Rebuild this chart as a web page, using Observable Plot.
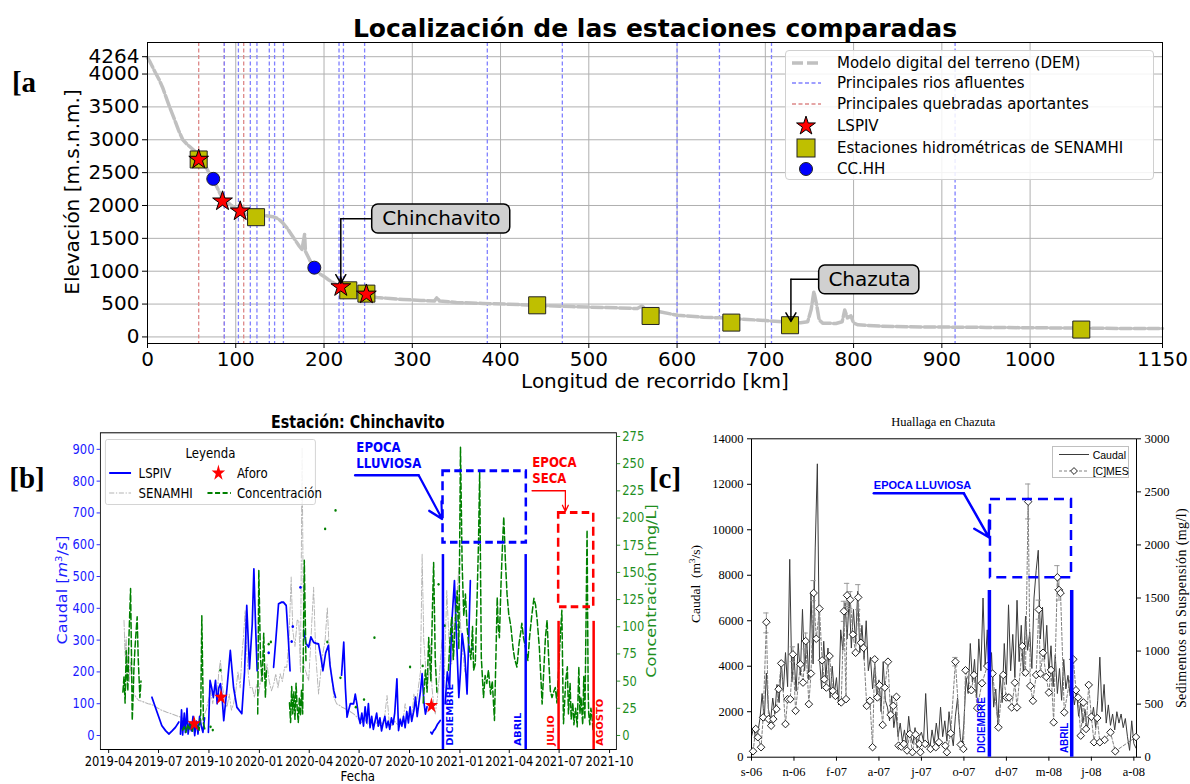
<!DOCTYPE html>
<html><head><meta charset="utf-8">
<script src="https://cdn.jsdelivr.net/npm/d3@7"></script>
<script src="https://cdn.jsdelivr.net/npm/@observablehq/plot@0.6"></script>
<style>
body{margin:0;background:#fff;}
#root{position:relative;width:1190px;height:784px;overflow:hidden;background:#fff;font-family:"DejaVu Sans",sans-serif;}
#root svg{position:absolute;left:0;top:0;overflow:visible;}
</style></head><body><div id="root"></div>
<script>
// ================= DATA =================
// Panel a: profile of the river (km, elevation m.s.n.m.)
const demProfile = [[0,4250],[3,4180],[6,4100],[9,4020],[13,3920],[17,3800],[21,3650],[25,3500],[30,3330],[35,3150],[40,3000],[45,2930],[50,2870],[55,2810],[60,2740],[65,2620],[71,2460],[78,2300],[84,2130],[90,2060],[95,2000],[100,1950],[105,1900],[110,1870],[118,1860],[126,1850],[134,1845],[142,1830],[148,1800],[153,1740],[158,1660],[163,1560],[168,1460],[172,1380],[175,1330],[177,1480],[178,1560],[179,1300],[182,1220],[186,1110],[190,1040],[195,960],[200,920],[205,870],[210,830],[215,790],[220,760],[225,720],[230,690],[235,660],[240,640],[248,620],[260,600],[275,585],[290,570],[310,555],[325,545],[328,600],[331,545],[350,525],[380,510],[410,497],[440,482],[480,462],[520,447],[555,432],[560,470],[565,425],[600,330],[630,300],[650,290],[680,265],[700,250],[720,230],[740,215],[748,230],[752,420],[755,690],[758,500],[761,260],[765,210],[780,205],[787,230],[790,410],[793,290],[797,320],[800,210],[805,185],[830,165],[860,155],[900,150],[950,145],[1000,140],[1050,135],[1100,130],[1150,128]];
const riverKm = [87,103,116.5,124,138,144,154,217,222,246,385,470,600,648,707,915];
const creekKm = [58,87,109];
const lspivStations = [[58,2700],[85,2065],[105,1913],[219,760],[248,648]];
const senamhiStations = [[58,2700],[123,1822],[227.5,709],[248,659],[441.5,481],[570,319],[661.5,218],[728,178],[1058,112]];
const cchhStations = [[74.5,2405],[189,1054]];
const elevTicks = [0,500,1000,1500,2000,2500,3000,3500,4000,4264];
const kmTicks = [0,100,200,300,400,500,600,700,800,900,1000,1150];
const stationNames = ["Chinchavito","Chazuta"];

// Panel b: Chinchavito (day offsets from 2019-04-01)
const lspivFlow = [[79,120],[88,75],[97,31],[104,15],[110,5],[116,15],[122,26],[128,42],[129,null],
[131,5],[133,80],[135,2],[138,70],[140,10],[143,85],[145,5],[148,40],[151,15],[154,60],[157,0],[160,45],[163,5],[166,60],[169,30],[172,10],[175,55],[178,null],
[182,10],[185,173],[188,150],[191,120],[195,173],[198,100],[201,150],[204,163],[207,120],[210,47],[216,150],[222,267],[228,150],[234,89],[238,80],[243,69],[248,200],[252,409],[257,210],[262,350],[265,524],[268,350],[271,204],[280,null],
[301,215],[305,300],[310,414],[315,419],[319,419],[324,409],[328,300],[331,204],[340,null],
[356,330],[360,290],[365,278],[369,310],[374,293],[378,290],[383,288],[387,250],[391,204],[396,260],[401,283],[404,220],[408,173],[411,140],[414,120],[419,null],
[425,190],[429,293],[432,150],[435,58],[438,80],[441,100],[447,100],[450,130],[453,100],[456,60],[459,38],[462,70],[465,30],[468,90],[471,40],[474,100],[477,25],[480,60],[483,20],[486,45],[489,70],[492,30],[495,55],[498,15],[501,40],[504,60],[507,25],[510,45],[513,20],[516,55],[519,35],[522,70],[526,178],[529,16],[532,50],[535,30],[538,60],[541,25],[544,75],[547,40],[550,90],[553,45],[557,79],[560,120],[563,60],[566,100],[569,140],[572,194],[575,110],[578,68],[581,90],[584,null],
[588,10],[590,5],[593,15],[596,21],[600,35],[605,47],[609,null],
[614,100],[618,200],[622,150],[626,350],[631,487],[635,300],[639,120],[642,200],[645,320],[650,250],[654,131],[657,300],[660,487]];
const lspivDots = [[292,260],[334,296],[336,343],[350,466],[639,341],[663,273]];
const senamhiFlow = [[28,362],[30,250],[32,310],[34,200],[36,280],[38,170],[40,230],[43,150],[46,131],[50,120],[55,110],[60,108],[66,104],[72,100],[78,98],[84,92],[90,86],[96,80],[102,76],[106,73],[112,70],[118,66],[124,62],[131,58],[137,52],[143,48],[149,42],[155,37],[160,45],[165,40],[170,50],[173,58],[178,80],[182,110],[186,141],[190,100],[194,160],[198,130],[201,200],[204,236],[208,150],[212,110],[216,89],[220,130],[224,80],[228,100],[232,140],[236,200],[240,150],[243,250],[246,309],[249,393],[252,260],[255,190],[258,150],[262,152],[266,120],[270,160],[274,130],[277,173],[281,200],[285,180],[289,225],[293,170],[297,141],[301,160],[305,194],[309,150],[313,194],[317,170],[321,215],[325,215],[329,300],[333,498],[336,330],[340,280],[344,362],[347,362],[350,200],[353,906],[356,225],[360,200],[365,173],[369,300],[374,466],[378,250],[383,131],[387,200],[391,260],[395,300],[399,403],[403,250],[407,180],[411,120],[416,100],[421,95],[426,89],[431,85],[436,80],[441,75],[447,68],[452,60],[457,50],[462,40],[467,55],[472,35],[477,50],[482,30],[487,45],[492,28],[497,40],[502,35],[508,126],[512,40],[517,30],[522,45],[527,35],[532,55],[537,45],[541,100],[545,60],[549,80],[553,50],[557,130],[561,90],[565,150],[569,200],[572,571],[575,300],[578,225],[582,150],[585,220],[587,288],[590,150],[593,100],[596,68],[600,120],[604,200],[608,300],[612,150],[617,456],[621,300],[626,225],[630,350],[634,400],[639,529],[642,350],[645,278],[650,200]];
const concentration = [[26,40],[28,54],[30,30],[32,78],[34,50],[35,41],[37,90],[40,135],[42,60],[43,14],[45,40],[46,60],[48,80],[50,95],[52,109],[54,70],[57,35],[59,50],[62,null],
[135,5],[138,8],[141,3],[144,10],[147,6],[150,12],[153,4],[156,15],[159,8],[162,10],[165,5],[168,20],[170,110],[173,11],[176,5],[178,null],
[272,20],[274,152],[277,72],[280,50],[283,94],[286,35],[288,60],[290,null],
[330,30],[332,12],[334,45],[336,20],[338,40],[340,15],[342,48],[344,25],[346,12],[348,35],[350,18],[352,42],[354,20],[357,161],[360,69],[362,null],
[574,30],[578,60],[581,40],[584,90],[588,50],[591,120],[593,159],[596,69],[599,40],[603,null],
[620,60],[623,90],[626,109],[629,70],[632,100],[636,133],[639,80],[642,265],[645,158],[648,110],[651,130],[654,100],[657,84],[661,70],[664,100],[666,60],[669,66],[672,120],[675,180],[677,242],[680,72],[684,35],[687,55],[690,48],[693,60],[697,38],[700,50],[704,14],[707,80],[709,127],[711,100],[713,90],[716,140],[719,180],[721,201],[724,160],[727,130],[730,112],[734,100],[738,80],[741,70],[745,63],[749,85],[752,95],[754,103],[757,90],[761,80],[765,69],[768,90],[772,110],[776,126],[779,120],[782,106],[786,80],[789,50],[791,29],[794,60],[797,90],[800,106],[803,70],[806,41],[809,35],[812,40],[815,44],[818,30],[821,60],[824,90],[827,115],[829,40],[830,11],[832,30],[834,50],[837,63],[839,20],[842,48],[844,15],[847,30],[849,10],[852,25],[855,8],[858,63],[860,20],[862,35],[865,10],[867,54],[869,15],[871,100],[873,189],[875,40],[876,20],[878,10],[880,25],[882,17],[884,5]];
const concDots = [[204,60],[292,84],[296,86],[395,190],[399,86],[414,207],[423,53],[451,26],[466,33],[485,90],[550,63],[573,64],[602,139],[613,101],[186,8],[190,5]];
const aforo = [[156,37],[205,120],[589,94]];
const flowTicksB = [0,100,200,300,400,500,600,700,800,900];
const concTicks = [0,25,50,75,100,125,150,175,200,225,250,275];
const dateTicksB = ["2019-04","2019-07","2019-10","2020-01","2020-04","2020-07","2020-10","2021-01","2021-04","2021-07","2021-10"];
const seasonsB = [{name:"DICIEMBRE",day:610,color:"#0000ff"},{name:"ABRIL",day:761,color:"#0000ff"},{name:"JULIO",day:821,color:"#ff0000"},{name:"AGOSTO",day:885,color:"#ff0000"}];

// Panel c: Huallaga en Chazuta (caudal every 4 days from 2006-09-01)
const caudal = [900,1300,800,1100,1700,2800,1600,3700,2100,1600,
2600,1900,3200,2400,4200,2900,4600,3100,8700,3300,
4500,2900,5000,3600,6500,3800,5200,3400,7200,4100,
9200,12900,4400,3000,5100,3500,4800,2600,4000,2800,
3500,2300,5600,4700,6800,5200,7000,4800,6500,5000,
7300,4600,5800,4300,6000,3800,4400,3000,4100,2600,
3400,2000,4200,2500,2200,1600,2700,1300,2000,900,
1500,700,1200,500,1800,900,600,1300,400,900,
1100,700,2800,800,400,1200,600,1500,800,2200,
900,1600,700,2000,1100,500,1800,2600,1200,300,
1500,3500,2800,5000,3300,4300,2600,5200,3800,7000,
4000,5600,3000,4600,2200,3000,1400,3600,2400,5000,
3200,6700,3800,5400,3500,6900,4200,5800,3600,6200,
4700,5500,3900,7000,8200,9100,5200,6600,4300,5800,
3700,4900,3100,4500,2800,3900,2500,4300,3000,3600,
2700,3100,2300,2900,1800,2400,1500,2100,1200,1800,
1600,2200,1300,2500,4400,2000,3200,1500,2300,1400,
1900,1200,2000,1500,1900,1300,1700,900,300,1600,600,400];
const cmes = [[3,56],[8,266],[12,188],[18,94],[22,375],[28,1272],[32,359],[37,297],[41,359],[47,453],[51,641],[56,884],[64,312],[68,547],[73,547],[78,969],[83,437],[92,875],[97,703],[102,1094],[108,500],[112,788],[117,1547],[122,1116],[128,1400],[133,913],[137,734],[141,656],[147,953],[153,625],[158,578],[169,516],[174,1375],[178,547],[180,1525],[186,1484],[191,1156],[196,984],[201,1506],[206,1078],[211,1030],[217,484],[223,531],[228,94],[232,922],[237,563],[241,678],[247,303],[251,656],[257,900],[262,400],[267,484],[273,569],[277,109],[282,100],[287,125],[293,63],[298,219],[303,47],[309,213],[316,125],[318,47],[327,125],[337,78],[347,94],[353,141],[365,109],[368,47],[375,225],[384,900],[394,119],[399,78],[403,819],[414,631],[419,775],[425,463],[434,697],[444,859],[454,788],[465,281],[474,775],[480,563],[485,563],[490,469],[496,703],[500,469],[510,1047],[516,797],[521,2408],[525,672],[530,531],[536,775],[541,1391],[544,788],[549,984],[555,756],[560,609],[564,822],[569,328],[576,1695],[579,1576],[582,1547],[589,422],[606,922],[611,631],[615,563],[620,203],[625,516],[630,266],[635,681],[640,381],[645,141],[651,369],[656,141],[665,163],[676,234],[685,56],[724,190]];
const cmesErr = [[28,1172,1359],[78,900,1040],[102,1020,1170],[117,1475,1664],[174,1280,1469],[180,1420,1638],[186,1400,1560],[201,1390,1626],[384,860,940],[521,2245,2574],[541,1300,1480],[576,1580,1805],[579,1480,1680]];
const flowTicksC = [0,2000,4000,6000,8000,10000,12000,14000];
const sedTicks = [0,500,1000,1500,2000,2500,3000];
const dateTicksC = ["s-06","n-06","f-07","a-07","j-07","o-07","d-07","m-08","j-08","a-08"];
const seasonsC = [{name:"DICIEMBRE",day:448},{name:"ABRIL",day:603}];

// ================= HELPERS =================
const root = document.getElementById("root");
function label(parent, html, x, y, css, rot=0){
  const d=document.createElement("div");
  d.innerHTML=html;
  d.style.cssText=`position:absolute;left:${x}px;top:${y}px;white-space:nowrap;line-height:1;transform:translate(-50%,-50%) rotate(${rot}deg);`+css;
  parent.appendChild(d); return d;
}
function sym(type,size,fill,stroke,sw){return `<path d="${d3.symbol(type,size)()}" fill="${fill}" stroke="${stroke}" stroke-width="${sw}"/>`;}

// ================= PANEL A =================
const dem = demProfile.map(([km,elev])=>({km,elev}));
const toXY = arr => arr.map(([km,elev])=>({km,elev}));
const boxes = [
  {name:stationNames[0], x1:254.6, x2:411, y1:1575, y2:2015, cx:333, cy:1795, hx:219, hy:1800, ty:815},
  {name:stationNames[1], x1:761, x2:874.5, y1:648, y2:1088, cx:818, cy:868, hx:729, hy:876, ty:235}
];
const plotA = Plot.plot({
  width:1190, height:400, marginLeft:147, marginRight:28, marginTop:42, marginBottom:57,
  x:{domain:[0,1150]}, y:{domain:[-100,4480]},
  style:{fontFamily:"DejaVu Sans", background:"transparent", color:"#000"},
  marks:[
    Plot.gridY(elevTicks,{stroke:"#b0b0b0", strokeOpacity:1}),
    Plot.gridX(kmTicks,{stroke:"#b0b0b0", strokeOpacity:1}),
    Plot.ruleX(creekKm,{stroke:"#dd8888", strokeDasharray:"4,2.5", strokeWidth:1.3}),
    Plot.ruleX(riverKm,{stroke:"#8080ff", strokeDasharray:"4,2.5", strokeWidth:1.3}),
    Plot.line(dem,{x:"km", y:"elev", stroke:"#c0c0c0", strokeWidth:3.5, strokeDasharray:"11,3"}),
    Plot.dot(toXY(senamhiStations),{x:"km", y:"elev", symbol:"square", r:9.6, fill:"#bfbf00", stroke:"#222", strokeWidth:1}),
    Plot.dot(toXY(cchhStations),{x:"km", y:"elev", symbol:"circle", r:6.5, fill:"#0000ff", stroke:"#222", strokeWidth:1}),
    Plot.dot(toXY(lspivStations),{x:"km", y:"elev", symbol:"star", r:6.2, fill:"#ff0000", stroke:"#000", strokeWidth:1}),
    Plot.line(boxes.flatMap((b,i)=>[{g:i,x:b.x1,y:b.hy},{g:i,x:b.hx,y:b.hy}]),{x:"x", y:"y", z:"g", stroke:"#000", strokeWidth:1.5}),
    Plot.arrow(boxes,{x1:"hx", y1:"hy", x2:"hx", y2:"ty", stroke:"#000", strokeWidth:1.5, headLength:10, bend:false}),
    Plot.rect(boxes,{x1:"x1", x2:"x2", y1:"y1", y2:"y2", rx:6, fill:"#d0d0d0", stroke:"#000", strokeWidth:1.5}),
    Plot.text(boxes,{x:"cx", y:"cy", text:"name", fontSize:20, fill:"#000"}),
    Plot.axisX(kmTicks,{tickSize:5, tickPadding:3, fontSize:20, tickFormat:"d", label:null}),
    Plot.axisY(elevTicks,{tickSize:5, tickPadding:3, fontSize:20, tickFormat:"d", label:null}),
    Plot.frame({stroke:"#000", strokeWidth:1})
  ]
});
root.appendChild(plotA);
label(root,"Localización de las estaciones comparadas",655,28,"font-size:25px;font-weight:bold;");
label(root,"Elevación [m.s.n.m.]",72,192,"font-size:20px;",-90);
label(root,"Longitud de recorrido [km]",655,381,"font-size:20px;");
label(root,"[a",24,82,"font-family:'Liberation Serif',serif;font-size:29px;font-weight:bold;");
{
  const lg=document.createElement("div");
  lg.style.cssText="position:absolute;left:785px;top:50px;width:369px;height:130px;background:rgba(255,255,255,0.85);border:1px solid #d0d0d0;border-radius:4px;box-sizing:border-box;";
  const rows=[
    {t:"Modelo digital del terreno (DEM)", s:`<line x1="6" x2="35" y1="11" y2="11" stroke="#c0c0c0" stroke-width="3.5" stroke-dasharray="11,4"/>`},
    {t:"Principales rios afluentes", s:`<line x1="6" x2="35" y1="11" y2="11" stroke="#8080ff" stroke-width="1.3" stroke-dasharray="4,2.5"/>`},
    {t:"Principales quebradas aportantes", s:`<line x1="6" x2="35" y1="11" y2="11" stroke="#dd8888" stroke-width="1.3" stroke-dasharray="4,2.5"/>`},
    {t:"LSPIV", s:`<g transform="translate(20,11)">${sym(d3.symbolStar,110,"#ff0000","#000",1)}</g>`},
    {t:"Estaciones hidrométricas de SENAMHI", s:`<rect x="11" y="2" width="18" height="18" fill="#bfbf00" stroke="#222"/>`},
    {t:"CC.HH", s:`<circle cx="20" cy="11" r="6.5" fill="#0000ff" stroke="#222"/>`}
  ];
  const ys=[61.7,81.7,103.3,125,146.7,167.7];
  rows.forEach((r,i)=>{
    const y=ys[i]-50;
    const sv=document.createElement("div");
    sv.innerHTML=`<svg width="40" height="22" style="position:static">${r.s}</svg>`;
    sv.style.cssText=`position:absolute;left:0px;top:${y-11}px;width:40px;height:22px;`;
    lg.appendChild(sv);
    const t=document.createElement("div");
    t.textContent=r.t;
    t.style.cssText=`position:absolute;left:51px;top:${y-9}px;font-size:15px;line-height:18px;white-space:nowrap;`;
    lg.appendChild(t);
  });
  root.appendChild(lg);
}

// ================= PANEL B =================
const K = 0.84;
const B0 = Date.UTC(2019,3,1);
const bd = d => new Date(B0 + d*864e5);
const wrapB = document.createElement("div");
wrapB.style.cssText=`position:absolute;left:0;top:400px;width:810px;height:384px;transform:scaleX(${K});transform-origin:0 0;`;
root.appendChild(wrapB);
const optB = {width:810, height:384, marginLeft:119, marginRight:76.7, marginTop:32.3, marginBottom:35,
  style:{fontFamily:"DejaVu Sans", background:"transparent", color:"#000"}};
const xB = {type:"utc", domain:[bd(-15.1), bd(926.5)]};
const bTicks = dateTicksB.map(s=>new Date(s+"-01T00:00:00Z"));
const toDV = arr => arr.map(([d,v])=>({date:bd(d), v}));
const b1 = Plot.plot({...optB, x:xB, y:{domain:[-44,952]},
  marks:[
    Plot.line(toDV(senamhiFlow),{x:"date", y:"v", stroke:"#b4b4b4", strokeWidth:1.1, strokeDasharray:"6,2,1.5,2"}),
    Plot.line(toDV(lspivFlow),{x:"date", y:"v", stroke:"#0000ff", strokeWidth:2}),
    Plot.dot(toDV(lspivDots),{x:"date", y:"v", r:1.5, fill:"#0000ff"}),
    Plot.axisX(bTicks,{tickFormat:"%Y-%m", fontSize:13.7, tickSize:4, tickPadding:3, label:null}),
    Plot.axisY(flowTicksB,{fontSize:13.7, tickSize:4, tickPadding:3, label:null, color:"#1a1aff"}),
    Plot.frame({stroke:"#000"})
  ]});
wrapB.appendChild(b1);
const b2 = Plot.plot({...optB, x:{...xB, axis:null}, y:{domain:[-12.9,278.4]},
  marks:[
    Plot.line(toDV(concentration),{x:"date", y:"v", stroke:"#008000", strokeWidth:1.8, strokeDasharray:"6,3"}),
    Plot.dot(toDV(concDots),{x:"date", y:"v", r:1.4, fill:"#008000"}),
    Plot.axisY(concTicks,{anchor:"right", fontSize:13.7, tickSize:4, tickPadding:3, label:null, color:"#1f8f1f"})
  ]});
wrapB.appendChild(b2);
const secoRect = [{x1:bd(610), x2:bd(762), y1:606, y2:831, c:"#0000ff"},{x1:bd(821), x2:bd(885), y1:403, y2:700, c:"#ff0000"}];
const b3 = Plot.plot({...optB, x:{...xB, axis:null}, y:{domain:[-44,952], axis:null},
  marks:[
    Plot.dot(toDV(aforo),{x:"date", y:"v", symbol:"star", r:5, fill:"#ff0000"}),
    Plot.rect(secoRect,{x1:"x1", x2:"x2", y1:"y1", y2:"y2", fill:"none", stroke:"c", strokeWidth:3, strokeDasharray:"9,5"}),
    Plot.ruleX(seasonsB,{x:d=>bd(d.day), y1:-44, y2:d=>d.color==="#0000ff"?569:359, stroke:"color", strokeWidth:3}),
    Plot.text(seasonsB,{x:d=>bd(d.day + (d.name==="ABRIL"||d.name==="JULIO"? -13 : 13)), y:-32, text:"name", rotate:-90, textAnchor:"start", fill:"color", fontSize:10, fontWeight:"bold"}),
    Plot.text([{t:"EPOCA\nLLUVIOSA", d:452, v:925, c:"#0000ff"},{t:"EPOCA\nSECA", d:773, v:878, c:"#ff0000"}],{x:d=>bd(d.d), y:"v", text:"t", fill:"c", textAnchor:"start", lineAnchor:"top", lineHeight:1.1, fontSize:14, fontWeight:"bold"}),
    Plot.line([{d:449.6,v:818.6},{d:565.7,v:818.6}],{x:d=>bd(d.d), y:"v", stroke:"#0000ff", strokeWidth:2.5}),
    Plot.arrow([{a:565.7,b:818.6,c:608.4,e:681.4}],{x1:d=>bd(d.a), y1:"b", x2:d=>bd(d.c), y2:"e", stroke:"#0000ff", strokeWidth:2.5, headLength:14, bend:false}),
    Plot.line([{d:772.6,v:770},{d:833.4,v:770}],{x:d=>bd(d.d), y:"v", stroke:"#ff0000", strokeWidth:1.5}),
    Plot.arrow([{a:833.4,b:770,c:833.4,e:705}],{x1:d=>bd(d.a), y1:"b", x2:d=>bd(d.c), y2:"e", stroke:"#ff0000", strokeWidth:1.5, headLength:8, bend:false})
  ]});
wrapB.appendChild(b3);
label(wrapB,"Estación: Chinchavito",426,21.7,"font-size:17px;font-weight:bold;");
label(wrapB,"Caudal [<i>m</i><sup style='font-size:10px'>3</sup>/<i>s</i>]",73.8,190,"font-size:16px;color:#1a1aff;",-90);
label(wrapB,"Concentración [mg/L]",775.8,191,"font-size:16px;color:#1f8f1f;",-90);
label(wrapB,"Fecha",426,376,"font-size:14px;");
{
  const lg=document.createElement("div");
  lg.style.cssText="position:absolute;left:125px;top:39px;width:251px;height:66px;background:rgba(255,255,255,0.85);border:1px solid #d0d0d0;border-radius:3px;box-sizing:border-box;font-size:14px;";
  lg.innerHTML=`<div style="position:absolute;left:0;width:100%;top:5px;text-align:center;line-height:16px;">Leyenda</div>
  <svg width="251" height="66" style="position:absolute;left:0;top:0">
   <line x1="4" x2="30" y1="33" y2="33" stroke="#0000ff" stroke-width="2"/>
   <line x1="4" x2="30" y1="53" y2="53" stroke="#b4b4b4" stroke-width="1.1" stroke-dasharray="6,2,1.5,2"/>
   <g transform="translate(134,33)">${sym(d3.symbolStar,80,"#ff0000","none",0)}</g>
   <line x1="121" x2="149" y1="53" y2="53" stroke="#008000" stroke-width="1.8" stroke-dasharray="6,3"/>
  </svg>
  <div style="position:absolute;left:39px;top:25px;line-height:16px;">LSPIV</div>
  <div style="position:absolute;left:39px;top:45px;line-height:16px;">SENAMHI</div>
  <div style="position:absolute;left:156px;top:25px;line-height:16px;">Aforo</div>
  <div style="position:absolute;left:156px;top:45px;line-height:16px;">Concentración</div>`;
  wrapB.appendChild(lg);
}
label(root,"[b]",27,478,"font-family:'Liberation Serif',serif;font-size:29px;font-weight:bold;");

// ================= PANEL C =================
const C0 = Date.UTC(2006,8,1);
const cd = d => new Date(C0 + d*864e5);
const wrapC = document.createElement("div");
wrapC.style.cssText="position:absolute;left:690px;top:400px;width:500px;height:384px;";
root.appendChild(wrapC);
const optC = {width:500, height:384, marginLeft:61, marginRight:54, marginTop:38.3, marginBottom:27.3,
  style:{fontFamily:"'Liberation Serif',serif", background:"transparent", color:"#000"}};
const xC = {type:"utc", domain:[cd(0), cd(725)]};
const cTicks = dateTicksC.map((s,i)=>cd(i*80));
const cFmt = d => dateTicksC[Math.round((d - C0)/(80*864e5))];
const caudalData = caudal.map((v,i)=>({date:cd(i*4), v}));
const c1 = Plot.plot({...optC, x:xC, y:{domain:[0,14000]},
  marks:[
    Plot.line(caudalData,{x:"date", y:"v", stroke:"#3a3a3a", strokeWidth:1}),
    Plot.axisX(cTicks,{tickFormat:cFmt, fontSize:12.5, tickSize:4, tickPadding:6, label:null}),
    Plot.axisY(flowTicksC,{tickFormat:"d", fontSize:12.5, tickSize:4, tickPadding:4, label:null}),
    Plot.frame({stroke:"#000"})
  ]});
wrapC.appendChild(c1);
const cmesData = cmes.map(([d,v])=>({date:cd(d), v}));
const c2 = Plot.plot({...optC, x:{...xC, axis:null}, y:{domain:[0,3000]},
  marks:[
    Plot.ruleX(cmesErr,{x:d=>cd(d[0]), y1:d=>d[1], y2:d=>d[2], stroke:"#9a9a9a", strokeWidth:1}),
    Plot.ruleY(cmesErr.flatMap(d=>[{d:d[0],y:d[1]},{d:d[0],y:d[2]}]),{y:"y", x1:d=>cd(d.d-5), x2:d=>cd(d.d+5), stroke:"#9a9a9a", strokeWidth:1}),
    Plot.line(cmesData,{x:"date", y:"v", stroke:"#808080", strokeWidth:1, strokeDasharray:"3,2"}),
    Plot.dot(cmesData,{x:"date", y:"v", symbol:"diamond2", r:3.4, fill:"#fff", stroke:"#222", strokeWidth:1}),
    Plot.axisY(sedTicks,{anchor:"right", tickFormat:"d", fontSize:12.5, tickSize:4, tickPadding:4, label:null})
  ]});
wrapC.appendChild(c2);
const c3 = Plot.plot({...optC, x:{...xC, axis:null}, y:{domain:[0,14000], axis:null},
  marks:[
    Plot.rect([{x1:cd(450), x2:cd(602.6), y1:7886, y2:11327}],{x1:"x1", x2:"x2", y1:"y1", y2:"y2", fill:"none", stroke:"#0000ff", strokeWidth:2.5, strokeDasharray:"10,6"}),
    Plot.ruleX(seasonsC,{x:d=>cd(d.day), y1:0, y2:7327, stroke:"#0000ff", strokeWidth:3.5}),
    Plot.text(seasonsC,{x:d=>cd(d.day-13.5), y:180, text:"name", rotate:-90, textAnchor:"start", fill:"#0000ff", fontSize:10, fontWeight:"bold", fontFamily:"'Liberation Sans',sans-serif"}),
    Plot.text([{t:"EPOCA LLUVIOSA"}],{x:cd(230.3), y:11943, text:"t", textAnchor:"start", fill:"#0000ff", fontSize:11, fontWeight:"bold", fontFamily:"'Liberation Sans',sans-serif"}),
    Plot.line([{d:230.3,v:11605},{d:399.8,v:11605}],{x:d=>cd(d.d), y:"v", stroke:"#0000ff", strokeWidth:2.5}),
    Plot.arrow([{a:399.8,b:11605,c:447,e:9670}],{x1:d=>cd(d.a), y1:"b", x2:d=>cd(d.c), y2:"e", stroke:"#0000ff", strokeWidth:2.5, headLength:12, bend:false})
  ]});
wrapC.appendChild(c3);
label(wrapC,"Huallaga en Chazuta",253.3,21.7,"font-family:'Liberation Serif',serif;font-size:12.5px;");
label(wrapC,"Caudal&nbsp;&nbsp;(m<sup style='font-size:9px'>3</sup>/s)",5,184,"font-family:'Liberation Serif',serif;font-size:13.5px;",-90);
label(wrapC,"Sedimentos en Suspensión (mg/l)",491.7,208,"font-family:'Liberation Serif',serif;font-size:14px;letter-spacing:0.4px;",-90);
{
  const lg=document.createElement("div");
  lg.style.cssText="position:absolute;left:361.7px;top:45.7px;width:77.6px;height:32.6px;background:#fff;border:1px solid #bfbfbf;box-sizing:border-box;font-family:'Liberation Sans',sans-serif;font-size:10.5px;";
  lg.innerHTML=`<svg width="78" height="33" style="position:absolute;left:0;top:0">
   <line x1="6" x2="36" y1="7.5" y2="7.5" stroke="#3a3a3a" stroke-width="1"/>
   <line x1="6" x2="36" y1="24" y2="24" stroke="#808080" stroke-width="1" stroke-dasharray="3,2"/>
   <g transform="translate(21,24)">${sym(d3.symbolDiamond2,30,"#fff","#222",1)}</g>
  </svg>
  <div style="position:absolute;left:40px;top:2px;line-height:12px;">Caudal</div>
  <div style="position:absolute;left:40px;top:18px;line-height:12px;">[C]MES</div>`;
  wrapC.appendChild(lg);
}
label(root,"[c]",665,478,"font-family:'Liberation Serif',serif;font-size:29px;font-weight:bold;");
</script></body></html>
